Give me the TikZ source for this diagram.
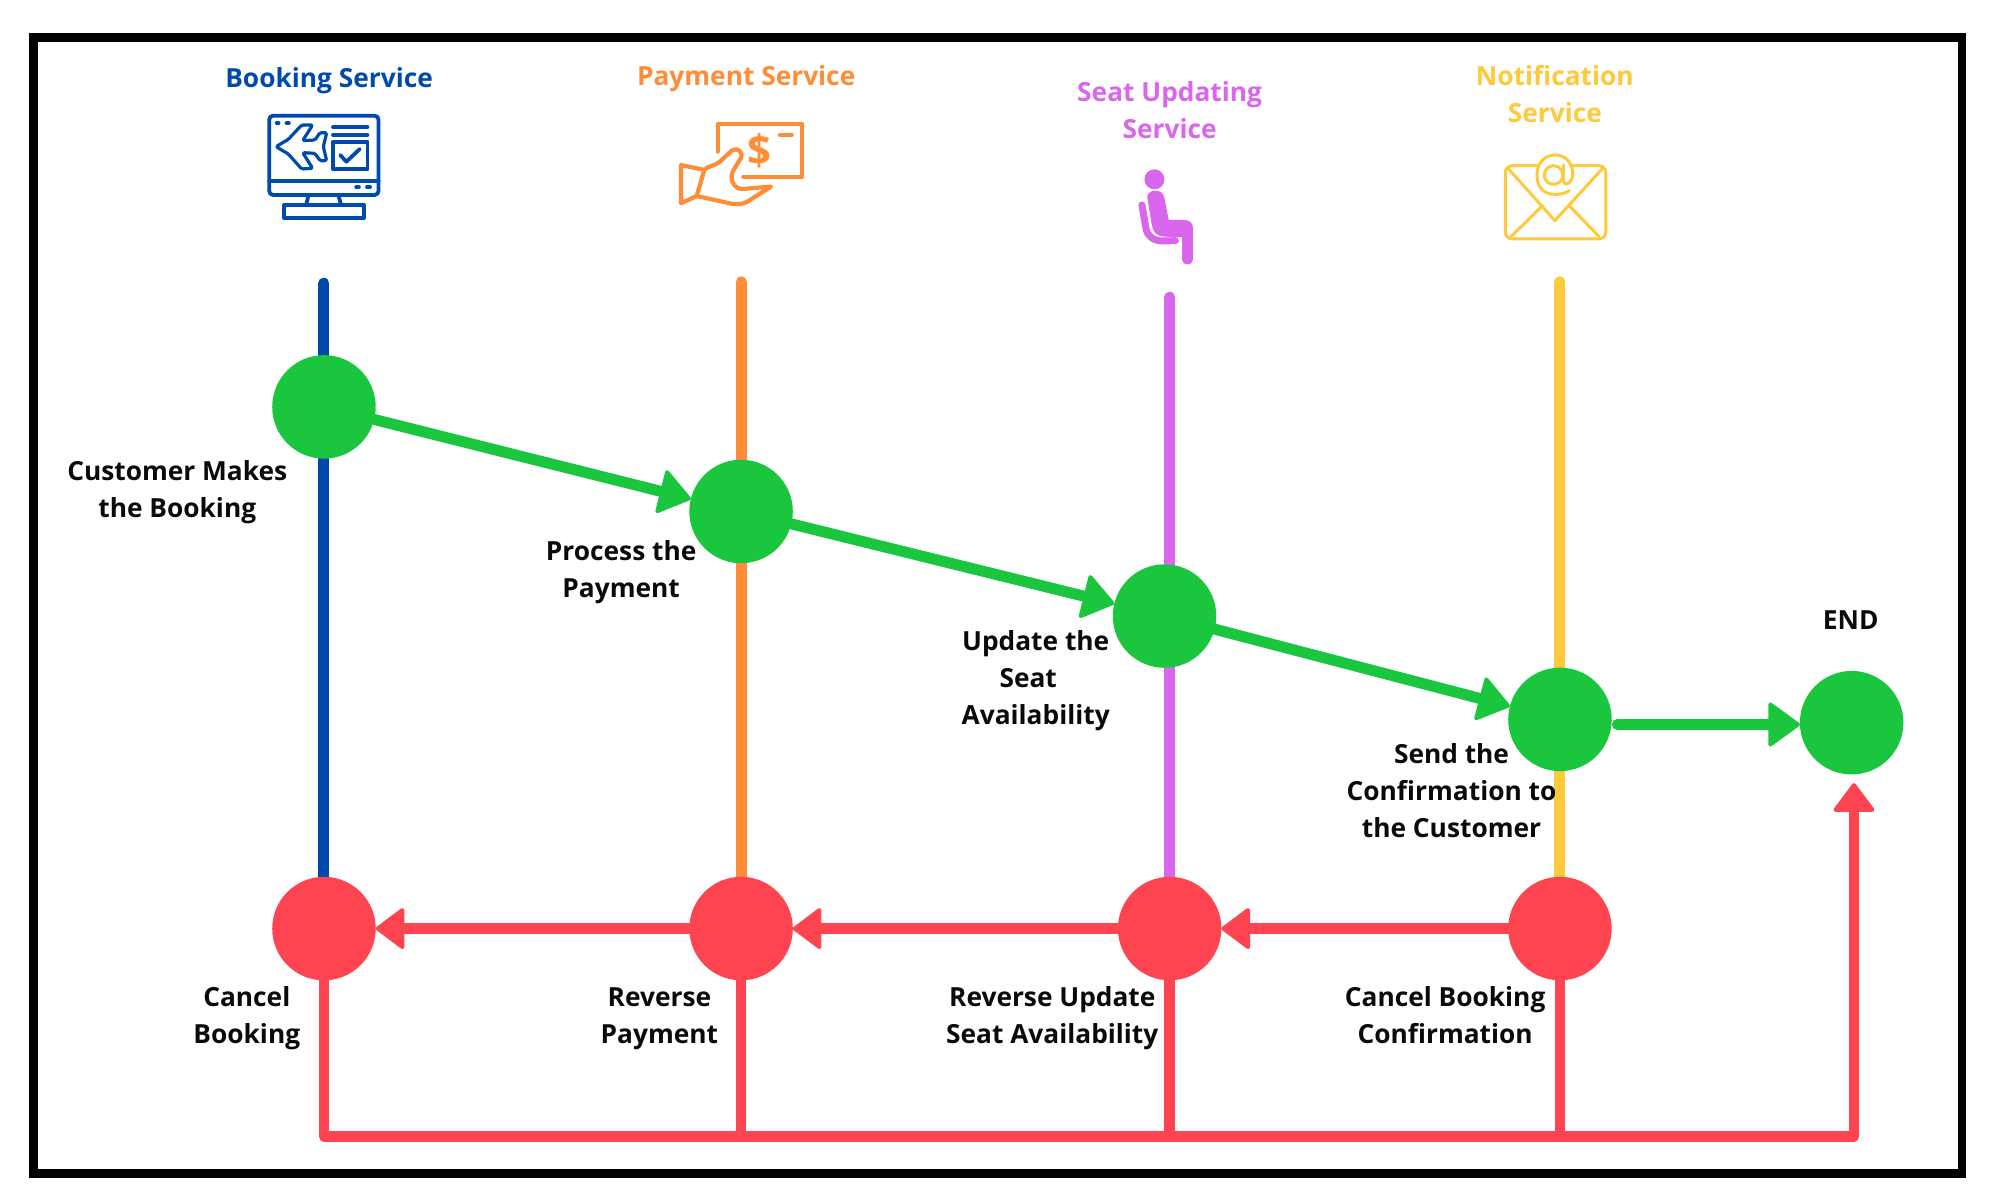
\documentclass[tikz,border=0pt]{standalone}
\usepackage{fontspec}
\setmainfont{Open Sans}
\usetikzlibrary{arrows.meta,backgrounds,calc}
\definecolor{cBlue}{HTML}{004AAD}
\definecolor{cOrange}{HTML}{FF8C36}
\definecolor{cPurple}{HTML}{D966EC}
\definecolor{cYellow}{HTML}{FFC93C}
\definecolor{cGreen}{HTML}{1BC63F}
\definecolor{cRed}{HTML}{FF4451}
\definecolor{cInk}{HTML}{0A0A0A}
\tikzset{
  lane/.style={line width=11pt,line cap=round},
  gnode/.style={circle,fill=cGreen,minimum size=103.5pt,inner sep=0pt,outer sep=0pt},
  rnode/.style={circle,fill=cRed,minimum size=103.5pt,inner sep=0pt,outer sep=0pt},
  gflow/.style={draw=cGreen,line width=11pt,line cap=round,-{Triangle[length=33pt,width=47pt,round,line width=4pt]}},
  rflow/.style={draw=cRed,line width=10.5pt,line cap=round,line join=round},
  rtip/.style={-{Triangle[length=30pt,width=44pt,round,line width=4pt]}},
  head/.style={font=\fontsize{26.3}{37}\selectfont\bfseries,align=center,inner sep=0pt},
  lbl/.style={font=\fontsize{26.3}{37}\selectfont\bfseries,align=center,inner sep=0pt,text=cInk},
  icon/.style={x=0.4464pt,y=-0.3333pt,line width=3.8pt,line join=round,line cap=round},
  iconfine/.style={x=0.3333pt,y=-0.3333pt,line width=3.2pt,line join=round,line cap=round},
}
\begin{document}
\begin{tikzpicture}[x=1.2755pt,y=-1.2755pt]
\useasboundingbox (0pt,0pt) rectangle (2000pt,-1200pt);
\begin{scope}[on background layer]
  \fill[white] (0pt,0pt) rectangle (2000pt,-1200pt);
\end{scope}
\draw[black,line width=8.6pt] (26.3,29.3) rectangle (1538.2,920.2);

% named top ends of the lanes and bus corners
\coordinate (t1) at (254,222);
\coordinate (t2) at (581,221);
\coordinate (t3) at (917,233);
\coordinate (t4) at (1223,221);
\coordinate (b1) at (254,891);
\coordinate (b2) at (581,891);
\coordinate (b3) at (917,891);
\coordinate (b4) at (1223,891);
\coordinate (b5) at (1453.5,891);
\coordinate (endtip) at (1453.5,614);
\coordinate (gs) at (1268,568);

% state nodes
\node[gnode] (g1) at (254,319) {};
\node[gnode] (g2) at (581,401) {};
\node[gnode] (g3) at (913,483) {};
\node[gnode] (g4) at (1223,564) {};
\node[gnode] (g5) at (1451.7,566.6) {};
\node[rnode] (r1) at (254,728) {};
\node[rnode] (r2) at (581,728) {};
\node[rnode] (r3) at (917,728) {};
\node[rnode] (r4) at (1223,728) {};

\begin{scope}[on background layer]
  \draw[lane,cBlue] (t1) -- (r1);
  \draw[lane,cOrange] (t2) -- (r2);
  \draw[lane,cPurple] (t3) -- (r3);
  \draw[lane,cYellow] (t4) -- (r4);
\end{scope}

% green flow
\draw[gflow] (g1) -- (g2);
\draw[gflow] (g2) -- (g3);
\draw[gflow] (g3) -- (g4);
\draw[gflow] (gs) -- (g5.west |- gs);

% red flow
\draw[rflow,rtip] (r4) -- (r3);
\draw[rflow,rtip] (r3) -- (r2);
\draw[rflow,rtip] (r2) -- (r1);
\draw[rflow] (r2) -- (b2);
\draw[rflow] (r3) -- (b3);
\draw[rflow] (r4) -- (b4);
\draw[rflow,rtip] (r1) -- (b1) -- (b5) -- (endtip);

% headings
\node[head,text=cBlue] (hb) at (258,63.5) {Booking Service};
\node[head,text=cOrange] (hp) at (585,61.5) {Payment Service};
\node[head,text=cPurple] (hs) at (917,86.5) {Seat Updating\\Service};
\node[head,text=cYellow] (hn) at (1219,74) {Notification\\Service};

% labels
\node[lbl] (l1) at (139,385.5) {Customer Makes\\the Booking};
\node[lbl] (l2) at (487,448.5) {Process the\\Payment};
\node[lbl] (l3) at (812,533.5) {Update the\\Seat\rule{15pt}{0pt}\\Availability};
\node[lbl] (l4) at (1138,620) {Send the\\Confirmation to\\the Customer};
\node[lbl] (l5) at (1451,486) {END};
\node[lbl] (l6) at (193.5,798) {Cancel\\Booking};
\node[lbl] (l7) at (517,798.5) {Reverse\\Payment};
\node[lbl] (l8) at (825,798) {Reverse Update\\Seat Availability};
\node[lbl] (l9) at (1133,796) {Cancel Booking\\Confirmation};

% booking icon
\begin{scope}[shift={(200pt,-40pt)},icon,cBlue]
  \draw[rounded corners=4pt] (155,227) rectangle (400,465);
  \draw (155,423) -- (400,423);
  \draw (172,250) -- (176,250) (194,250) -- (199,250) (350,441) -- (356,441) (374,441) -- (381,441);
  \draw (243,465) -- (238,495) (310,465) -- (316,495);
  \draw (188,495) rectangle (367,533);
  \draw (298,261) -- (375,261) (298,285) -- (375,285);
  \draw (298,305) rectangle (375,388);
  \draw (314,345) -- (328,365) -- (358,327);
\end{scope}
\begin{scope}[shift={(260pt,-105pt)},iconfine,cBlue]
  \draw[rounded corners=1.5pt] (48,125) -- (85,103) -- (125,60) -- (158,60) -- (128,107) -- (165,105) -- (180,83) -- (200,83) -- (190,125) -- (200,167) -- (180,167) -- (165,145) -- (128,143) -- (158,190) -- (125,192) -- (85,147) -- cycle;
\end{scope}

% payment icon
\begin{scope}[shift={(670pt,-110pt)},iconfine,cOrange,line width=4.2pt]
  \draw (143,125) -- (143,42) -- (397,42) -- (397,200) -- (220,200);
  \draw (330,75) -- (365,75);
  \node[font=\fontsize{42}{42}\selectfont\bfseries,inner sep=0pt,text=cOrange] (dollar) at (268,122) {\$};
  \draw (33,165) -- (103,180) -- (80,258) -- (33,280) -- cycle;
  \draw (103,180) .. controls (112,168) and (130,170) .. (150,155) -- (185,122) .. controls (200,110) and (222,125) .. (212,145) -- (192,178) .. controls (175,205) and (190,235) .. (215,237) -- (303,230) -- (240,270) .. controls (220,285) and (195,285) .. (170,278) -- (80,258);
\end{scope}

% seat icon
\begin{scope}[shift={(1000pt,-40pt)},icon,cPurple]
  \fill (346,418) circle (10pt);
  \fill (330,472) .. controls (330,445) and (365,445) .. (368,472) -- (378,540) -- (412,540) .. controls (425,540) and (432,550) .. (432,562) -- (432,660) .. controls (432,678) and (408,678) .. (408,660) -- (408,592) -- (368,590) .. controls (350,588) and (342,575) .. (340,555) -- cycle;
  \draw[line width=7pt] (318,495) -- (327,565) .. controls (330,590) and (345,603) .. (365,603) -- (393,602);
\end{scope}

% notification icon
\begin{scope}[shift={(1000pt,-40pt)},icon,cYellow,line width=3pt]
  \draw[rounded corners=7pt] (1205,377) -- (1132,377) -- (1132,597) -- (1357,597) -- (1357,377) -- (1283,377);
  \draw (1138,385) -- (1243,542) -- (1350,385);
  \draw (1145,590) -- (1215,497);
  \draw (1342,590) -- (1275,497);
  \draw (1275,452) .. controls (1262,465) and (1240,465) .. (1228,460) .. controls (1205,450) and (1203,420) .. (1203,403) .. controls (1203,370) and (1220,345) .. (1243,345) .. controls (1268,345) and (1283,370) .. (1283,403) .. controls (1283,420) and (1275,432) .. (1268,432) .. controls (1262,432) and (1262,420) .. (1262,410) -- (1262,375);
  \draw (1240,405) ellipse (21 and 28);
\end{scope}
\end{tikzpicture}
\end{document}
